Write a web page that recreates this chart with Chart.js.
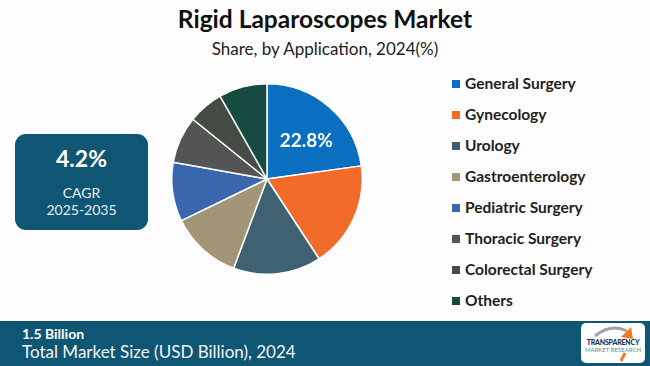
<!DOCTYPE html>
<html>
<head>
<meta charset="utf-8">
<script src="https://cdn.jsdelivr.net/npm/chart.js@4.4.1/dist/chart.umd.min.js"></script>
<style>
  html, body { margin:0; padding:0; }
  body { width:650px; height:366px; background:#fdfdfd; position:relative; overflow:hidden; font-family: Lato, "Open Sans", sans-serif; }
  #title { position:absolute; left:0; width:650px; top:4px; text-align:center; font-weight:700; font-size:24.5px; color:#111; }
  #subtitle { position:absolute; left:0; width:650px; top:38px; text-align:center; font-size:17px; color:#222; }
  #pieWrap { position:absolute; left:171px; top:83px; width:192px; height:192px; }
  #legend { position:absolute; left:452px; top:72px; }
  .lg { position:absolute; left:0; white-space:nowrap; font-weight:700; font-size:15.5px; color:#222; height:22px; line-height:22px; }
  .lg span.sw { display:inline-block; width:8px; height:8px; margin-right:5px; vertical-align:1px; }
  #box { position:absolute; left:15px; top:134px; width:133px; height:96px; background:#0f5674; border-radius:11px; color:#fff; text-align:center; }
  #box .big { position:absolute; left:0; width:100%; top:10px; font-weight:700; font-size:23px; }
  #box .sm1 { position:absolute; left:0; width:100%; top:50px; font-size:14px; color:#e8eef2; }
  #box .sm2 { position:absolute; left:0; width:100%; top:67px; font-size:14px; color:#e8eef2; }
  #bar { position:absolute; left:0; top:321px; width:650px; height:45px; background:#0f5674; color:#fff; }
  #bar .b1 { position:absolute; left:22px; top:4px; font-weight:700; font-size:14px; }
  #bar .b2 { position:absolute; left:22px; top:20px; font-size:17px; color:#f2f5f7; }
  #logo { position:absolute; left:581px; top:2px; width:64px; height:40px; background:#fff; border-radius:5px; }
  #logo .t1 { position:absolute; left:0; width:100%; top:15px; text-align:center; font-weight:900; font-size:7px; color:#1d3550; letter-spacing:-0.2px; }
  #logo .t2 { position:absolute; left:0; width:100%; top:23px; text-align:center; font-size:6px; color:#5a8a9a; }
</style>
</head>
<body>
<script>
const categories = ["General Surgery","Gynecology","Urology","Gastroenterology","Pediatric Surgery","Thoracic Surgery","Colorectal Surgery","Others"];
const shares = [22.8, 18.0, 14.9, 12.1, 10.0, 8.0, 6.0, 8.2];
const sliceColors = ["#0a6fc0","#f26b2a","#3e6272","#a39677","#3a66ad","#545454","#454c44","#174a40"];
const labeledSlices = ["22.8%"];
</script>
<div id="title">Rigid Laparoscopes Market</div>
<div id="subtitle">Share, by Application, 2024(%)</div>
<div id="pieWrap"><canvas id="pie"></canvas></div>
<div id="legend"></div>
<div id="box"><div class="big">4.2%</div><div class="sm1">CAGR</div><div class="sm2">2025-2035</div></div>
<div id="bar">
  <div class="b1">1.5 Billion</div>
  <div class="b2">Total Market Size (USD Billion), 2024</div>
  <div id="logo">
    <svg width="64" height="40" style="position:absolute;left:0;top:0">
      <path d="M14 13 Q30 0 46 8" stroke="#9aa3aa" stroke-width="3" fill="none"/>
      <path d="M40 14 L50 4 L52 16 Z" fill="#ef7a24"/>
      <path d="M44 30 L40 38" stroke="#ef7a24" stroke-width="3"/>
    </svg>
    <div class="t1">TRANSPARENCY</div>
    <div class="t2">MARKET RESEARCH</div>
  </div>
</div>
<script>
const labelPlugin = {
  id: 'sliceLabel',
  afterDatasetsDraw(chart) {
    const ctx = chart.ctx;
    const meta = chart.getDatasetMeta(0);
    meta.data.forEach((arc, i) => {
      if (i >= labeledSlices.length) return;
      const p = arc.getProps(['x','y','startAngle','endAngle','outerRadius'], true);
      const mid = (p.startAngle + p.endAngle) / 2;
      const r = p.outerRadius * 0.58;
      ctx.save();
      ctx.fillStyle = '#ffffff';
      ctx.font = '700 19px Lato, "Open Sans", sans-serif';
      ctx.textAlign = 'center';
      ctx.textBaseline = 'middle';
      ctx.fillText(labeledSlices[i], p.x + Math.cos(mid) * r + 3, p.y + Math.sin(mid) * r + 4);
      ctx.restore();
    });
  }
};
const chart = new Chart(document.getElementById('pie'), {
  type: 'pie',
  data: { labels: categories, datasets: [{ data: shares, backgroundColor: sliceColors, borderColor: '#ffffff', borderWidth: 1.5 }] },
  options: {
    responsive: true, maintainAspectRatio: false, animation: false,
    layout: { padding: 0 },
    plugins: { legend: { display: false }, tooltip: { enabled: false } }
  },
  plugins: [labelPlugin]
});
const lg = document.getElementById('legend');
categories.forEach((c, i) => {
  const d = document.createElement('div');
  d.className = 'lg';
  d.style.top = (i * 31) + 'px';
  d.innerHTML = '<span class="sw" style="background:' + sliceColors[i] + '"></span>' + c;
  lg.appendChild(d);
});
</script>
</body>
</html>
